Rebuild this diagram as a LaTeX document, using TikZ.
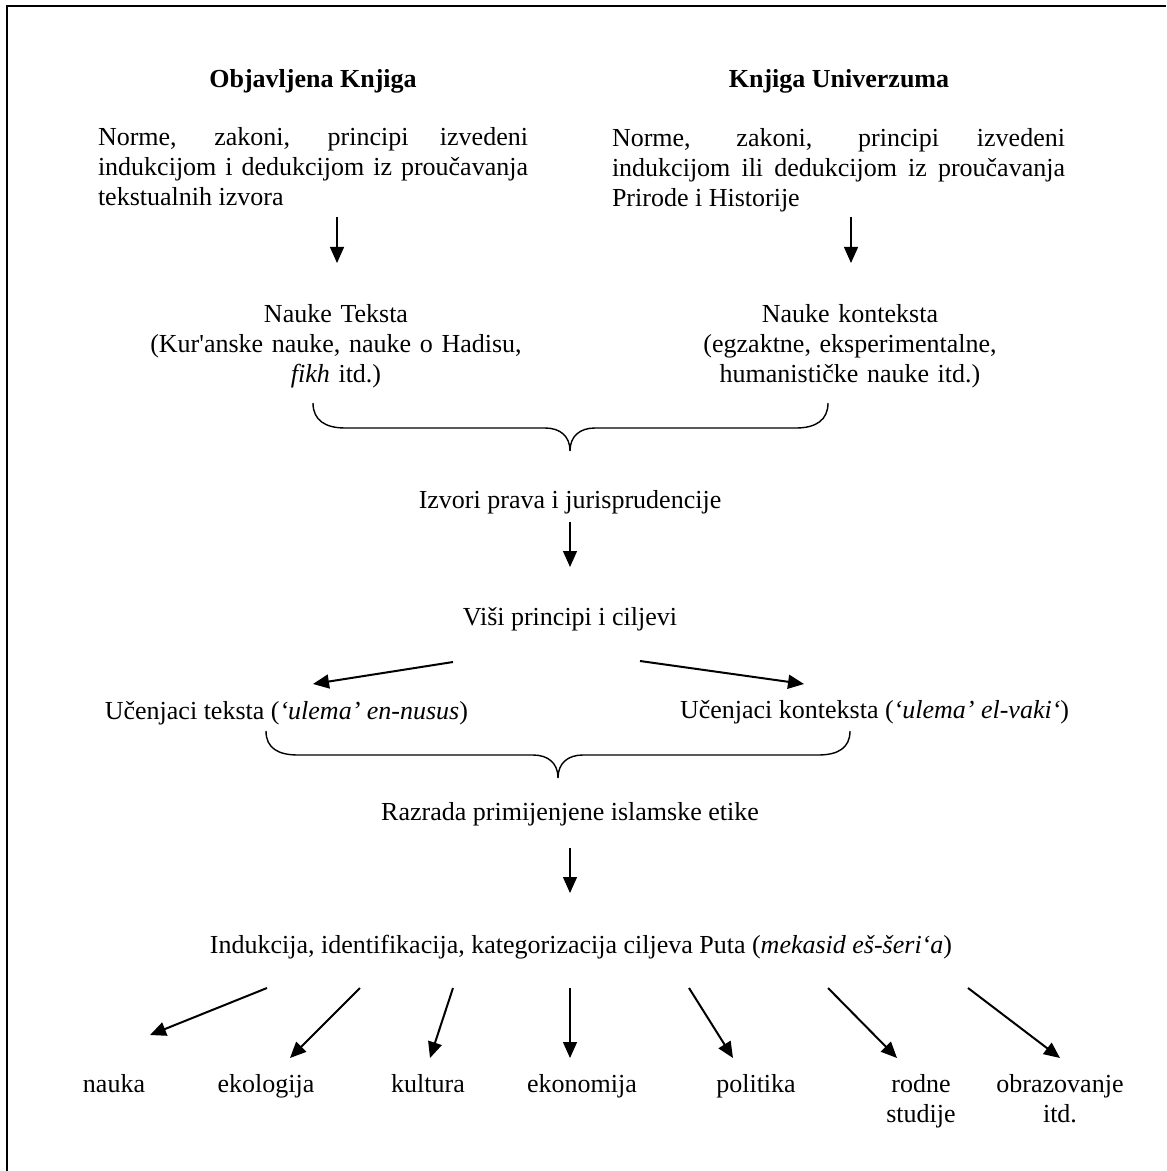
\documentclass[tikz,border=0pt]{standalone}
\usepackage{fontspec}
\setmainfont{Liberation Serif}[Ligatures=TeXOff]
\usetikzlibrary{arrows.meta}
\tolerance=10000
\hbadness=10000
\hyphenpenalty=10000
\begin{document}
\begin{tikzpicture}[x=0.5pt,y=-0.5pt,
  every node/.style={inner sep=0pt, outer sep=0pt, font=\fontsize{13}{15}\selectfont},
  lbl/.style={anchor=base, align=center},
  para/.style={anchor=base west, align=justify},
  ttl/.style={anchor=base, font=\fontsize{13}{15}\selectfont\bfseries},
  varrow/.style={line width=0.65pt, -{Triangle[length=8pt,width=7pt]}},
  darrow/.style={line width=1pt, -{Triangle[length=8pt,width=7pt]}},
  bracepath/.style={line width=0.7pt},
  framepath/.style={line width=1pt}]
\useasboundingbox (0,0) rectangle (1166,1171);
\draw[framepath] (6.5,1171) -- (6.5,6) -- (1166,6);

% titles and paragraphs
\node[ttl] (t1) at (313,88) {Objavljena Knjiga};
\node[ttl] (t2) at (839,88) {Knjiga Univerzuma};
\node[para, text width=215pt] (p1) at (98,146) {Norme, zakoni, principi izvedeni\linebreak indukcijom i dedukcijom iz proučavanja\linebreak tekstualnih izvora};
\node[para, text width=226.5pt] (p2) at (612,147) {Norme, zakoni, principi izvedeni\linebreak indukcijom ili dedukcijom iz proučavanja\linebreak Prirode i Historije};

\node[lbl, text width=260pt] (n1) at (336,322) {Nauke Teksta\\(Kur'anske nauke, nauke o Hadisu,\\\textit{fikh} itd.)};
\node[lbl, text width=260pt] (n2) at (850,322) {Nauke konteksta\\(egzaktne, eksperimentalne,\\humanističke nauke itd.)};

\node[lbl] (iz) at (570,508) {Izvori prava i jurisprudencije};
\node[lbl] (vp) at (570,625) {Viši principi i ciljevi};
\node[anchor=base east] (u1) at (468,719) {Učenjaci teksta (\textit{‘ulema’ en-nusus})};
\node[anchor=base west] (u2) at (680,718) {Učenjaci konteksta (\textit{‘ulema’ el-vaki‘})};
\node[lbl] (rz) at (570,820) {Razrada primijenjene islamske etike};
\node[lbl] (ind) at (581,953) {Indukcija, identifikacija, kategorizacija ciljeva Puta (\textit{mekasid eš-šeri‘a})};

\node[lbl] (c1) at (114,1092) {nauka};
\node[lbl] (c2) at (266,1092) {ekologija};
\node[lbl] (c3) at (428,1092) {kultura};
\node[lbl] (c4) at (582,1092) {ekonomija};
\node[lbl] (c5) at (756,1092) {politika};
\node[lbl, text width=80pt] (c6) at (921,1092) {rodne\\studije};
\node[lbl, text width=80pt] (c7) at (1060,1092) {obrazovanje\\itd.};

% arrow end points
\coordinate (a1s) at (337,217); \coordinate (a1e) at (337,263);
\coordinate (a2s) at (851,217); \coordinate (a2e) at (851,263);
\coordinate (a3s) at (570,522); \coordinate (a3e) at (570,567);
\coordinate (a4s) at (453,662); \coordinate (a4e) at (313,684);
\coordinate (a5s) at (640,661); \coordinate (a5e) at (804,684);
\coordinate (a6s) at (570,848); \coordinate (a6e) at (570,893);
\coordinate (b1s) at (267,988); \coordinate (b1e) at (150,1035);
\coordinate (b2s) at (360,988); \coordinate (b2e) at (290,1058);
\coordinate (b3s) at (453,988); \coordinate (b3e) at (430,1058);
\coordinate (b4s) at (570,988); \coordinate (b4e) at (570,1058);
\coordinate (b5s) at (689,988); \coordinate (b5e) at (733,1058);
\coordinate (b6s) at (828,988); \coordinate (b6e) at (897,1058);
\coordinate (b7s) at (968,988); \coordinate (b7e) at (1060,1058);

\draw[varrow] (a1s) -- (a1e);
\draw[varrow] (a2s) -- (a2e);
\draw[varrow] (a3s) -- (a3e);
\draw[darrow] (a4s) -- (a4e);
\draw[darrow] (a5s) -- (a5e);
\draw[varrow] (a6s) -- (a6e);
\draw[darrow] (b1s) -- (b1e);
\draw[darrow] (b2s) -- (b2e);
\draw[darrow] (b3s) -- (b3e);
\draw[varrow] (b4s) -- (b4e);
\draw[darrow] (b5s) -- (b5e);
\draw[darrow] (b6s) -- (b6e);
\draw[darrow] (b7s) -- (b7e);

% braces
\draw[bracepath] (313,403) .. controls (313,420) and (325,428) .. (345,428)
  -- (545,428) .. controls (560,428) and (570,436) .. (570,451)
  .. controls (570,436) and (580,428) .. (595,428)
  -- (796,428) .. controls (816,428) and (828,420) .. (828,403);
\draw[bracepath] (266,731) .. controls (266,748) and (278,755) .. (298,755)
  -- (533,755) .. controls (548,755) and (558,763) .. (558,778)
  .. controls (558,763) and (568,755) .. (583,755)
  -- (818,755) .. controls (838,755) and (850,748) .. (850,731);
\end{tikzpicture}
\end{document}
